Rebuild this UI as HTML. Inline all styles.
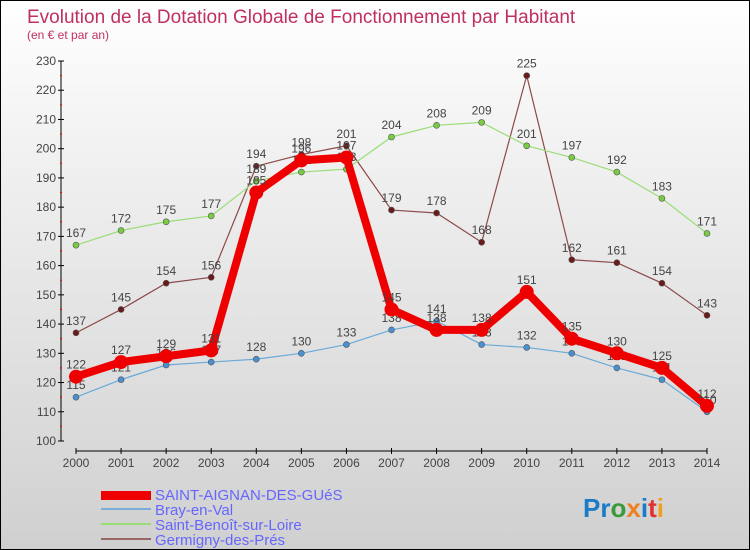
<!DOCTYPE html>
<html><head><meta charset="utf-8"><style>
body{margin:0;}
#c{width:748px;height:548px;border:1px solid #000;background:linear-gradient(#fff 0%,#f0f0f0 30%,#d0d0d0 100%);position:relative;overflow:hidden;font-family:"Liberation Sans",sans-serif;}
</style></head><body>
<div id="c">
<svg id="s" width="748" height="548" xmlns="http://www.w3.org/2000/svg" style="position:absolute;left:0;top:0">
<text x="26" y="22" font-size="19" fill="#c0305f">Evolution de la Dotation Globale de Fonctionnement par Habitant</text>
<text x="26" y="38" font-size="12" fill="#c0305f">(en € et par an)</text>
<g id="axes"></g><g id="series"></g>
<g>
<rect x="100" y="490" width="50" height="9" fill="#e00"/>
<text x="154" y="499" font-size="15" fill="#6666ff">SAINT-AIGNAN-DES-GUéS</text>
<rect x="100" y="507" width="50" height="2" fill="#7aaed8"/>
<text x="154" y="514" font-size="15" fill="#6666ff">Bray-en-Val</text>
<rect x="100" y="522" width="50" height="2" fill="#99dd77"/>
<text x="154" y="529" font-size="15" fill="#6666ff">Saint-Benoît-sur-Loire</text>
<rect x="100" y="537" width="50" height="2" fill="#996666"/>
<text x="154" y="544" font-size="15" fill="#6666ff">Germigny-des-Prés</text>
</g>
<text x="582" y="516" font-size="26" font-weight="bold"><tspan fill="#1a7cc8">Pr</tspan><tspan fill="#3a9a3a">o</tspan><tspan fill="#f08020">x</tspan><tspan fill="#1a7cc8">i</tspan><tspan fill="#e03030">t</tspan><tspan fill="#f0a020">i</tspan></text>
</svg>
</div>
<script>
const years=[2000,2001,2002,2003,2004,2005,2006,2007,2008,2009,2010,2011,2012,2013,2014];
const yTicks=[100,110,120,130,140,150,160,170,180,190,200,210,220,230];
const saintAignan=[122,127,129,131,185,196,197,145,138,138,151,135,130,125,112];
const bray=[115,121,126,127,128,130,133,138,141,133,132,130,125,121,110];
const saintBenoit=[167,172,175,177,189,192,193,204,208,209,201,197,192,183,171];
const germigny=[137,145,154,156,194,198,201,179,178,168,225,162,161,154,143];
const NS="http://www.w3.org/2000/svg";
const xs=i=>75+i*(706-75)/14;
const ys=v=>440-(v-100)*(380/130);
function mk(t,a,p){const e=document.createElementNS(NS,t);for(const k in a)e.setAttribute(k,a[k]);p.appendChild(e);return e;}
const ax=document.getElementById('axes');
const yl=mk('line',{x1:60,y1:60,x2:60,y2:440,stroke:'#000','stroke-width':1},ax);


const xl=mk('line',{x1:75,y1:450,x2:706,y2:450,stroke:'#000','stroke-width':1},ax);


yTicks.forEach(v=>{const y=ys(v);
mk('line',{x1:57,y1:y,x2:63,y2:y,stroke:'#000'},ax);
if(v<230)mk('line',{x1:59,y1:ys(v+5),x2:61,y2:ys(v+5),stroke:'#e00'},ax);
const t=mk('text',{x:55,y:y+4,'font-size':12,fill:'#444','text-anchor':'end'},ax);t.textContent=v;

});
years.forEach((yr,i)=>{const x=xs(i);
mk('line',{x1:x,y1:447,x2:x,y2:453,stroke:'#000'},ax);
const t=mk('text',{x:x,y:466,'font-size':12,fill:'#444','text-anchor':'middle'},ax);t.textContent=yr;

});
const sg=document.getElementById('series');
function series(data,color,w,r,dot,name){
const g=mk('g',{},sg);


mk('polyline',{points:data.map((v,i)=>xs(i)+','+ys(v)).join(' '),fill:'none',stroke:color,'stroke-width':w,'stroke-linejoin':'round'},g);
data.forEach((v,i)=>{mk('circle',{cx:xs(i),cy:ys(v),r:r,fill:dot,stroke:'#555','stroke-width':r>5?0:0.6},g);
const t=mk('text',{x:xs(i),y:ys(v)-8,'font-size':12,fill:'#444','text-anchor':'middle'},g);t.textContent=v;});
}
series(germigny,'#8b4a4a',1.2,3,'#6b1a1a','series-germigny');
series(saintBenoit,'#99dd77',1.2,3,'#77cc44','series-saint-benoit');
series(bray,'#6aaad8',1.2,3,'#4a90d0','series-bray');
series(saintAignan,'#ee0000',8,7,'#ee0000','series-saint-aignan');
</script>
</body></html>
